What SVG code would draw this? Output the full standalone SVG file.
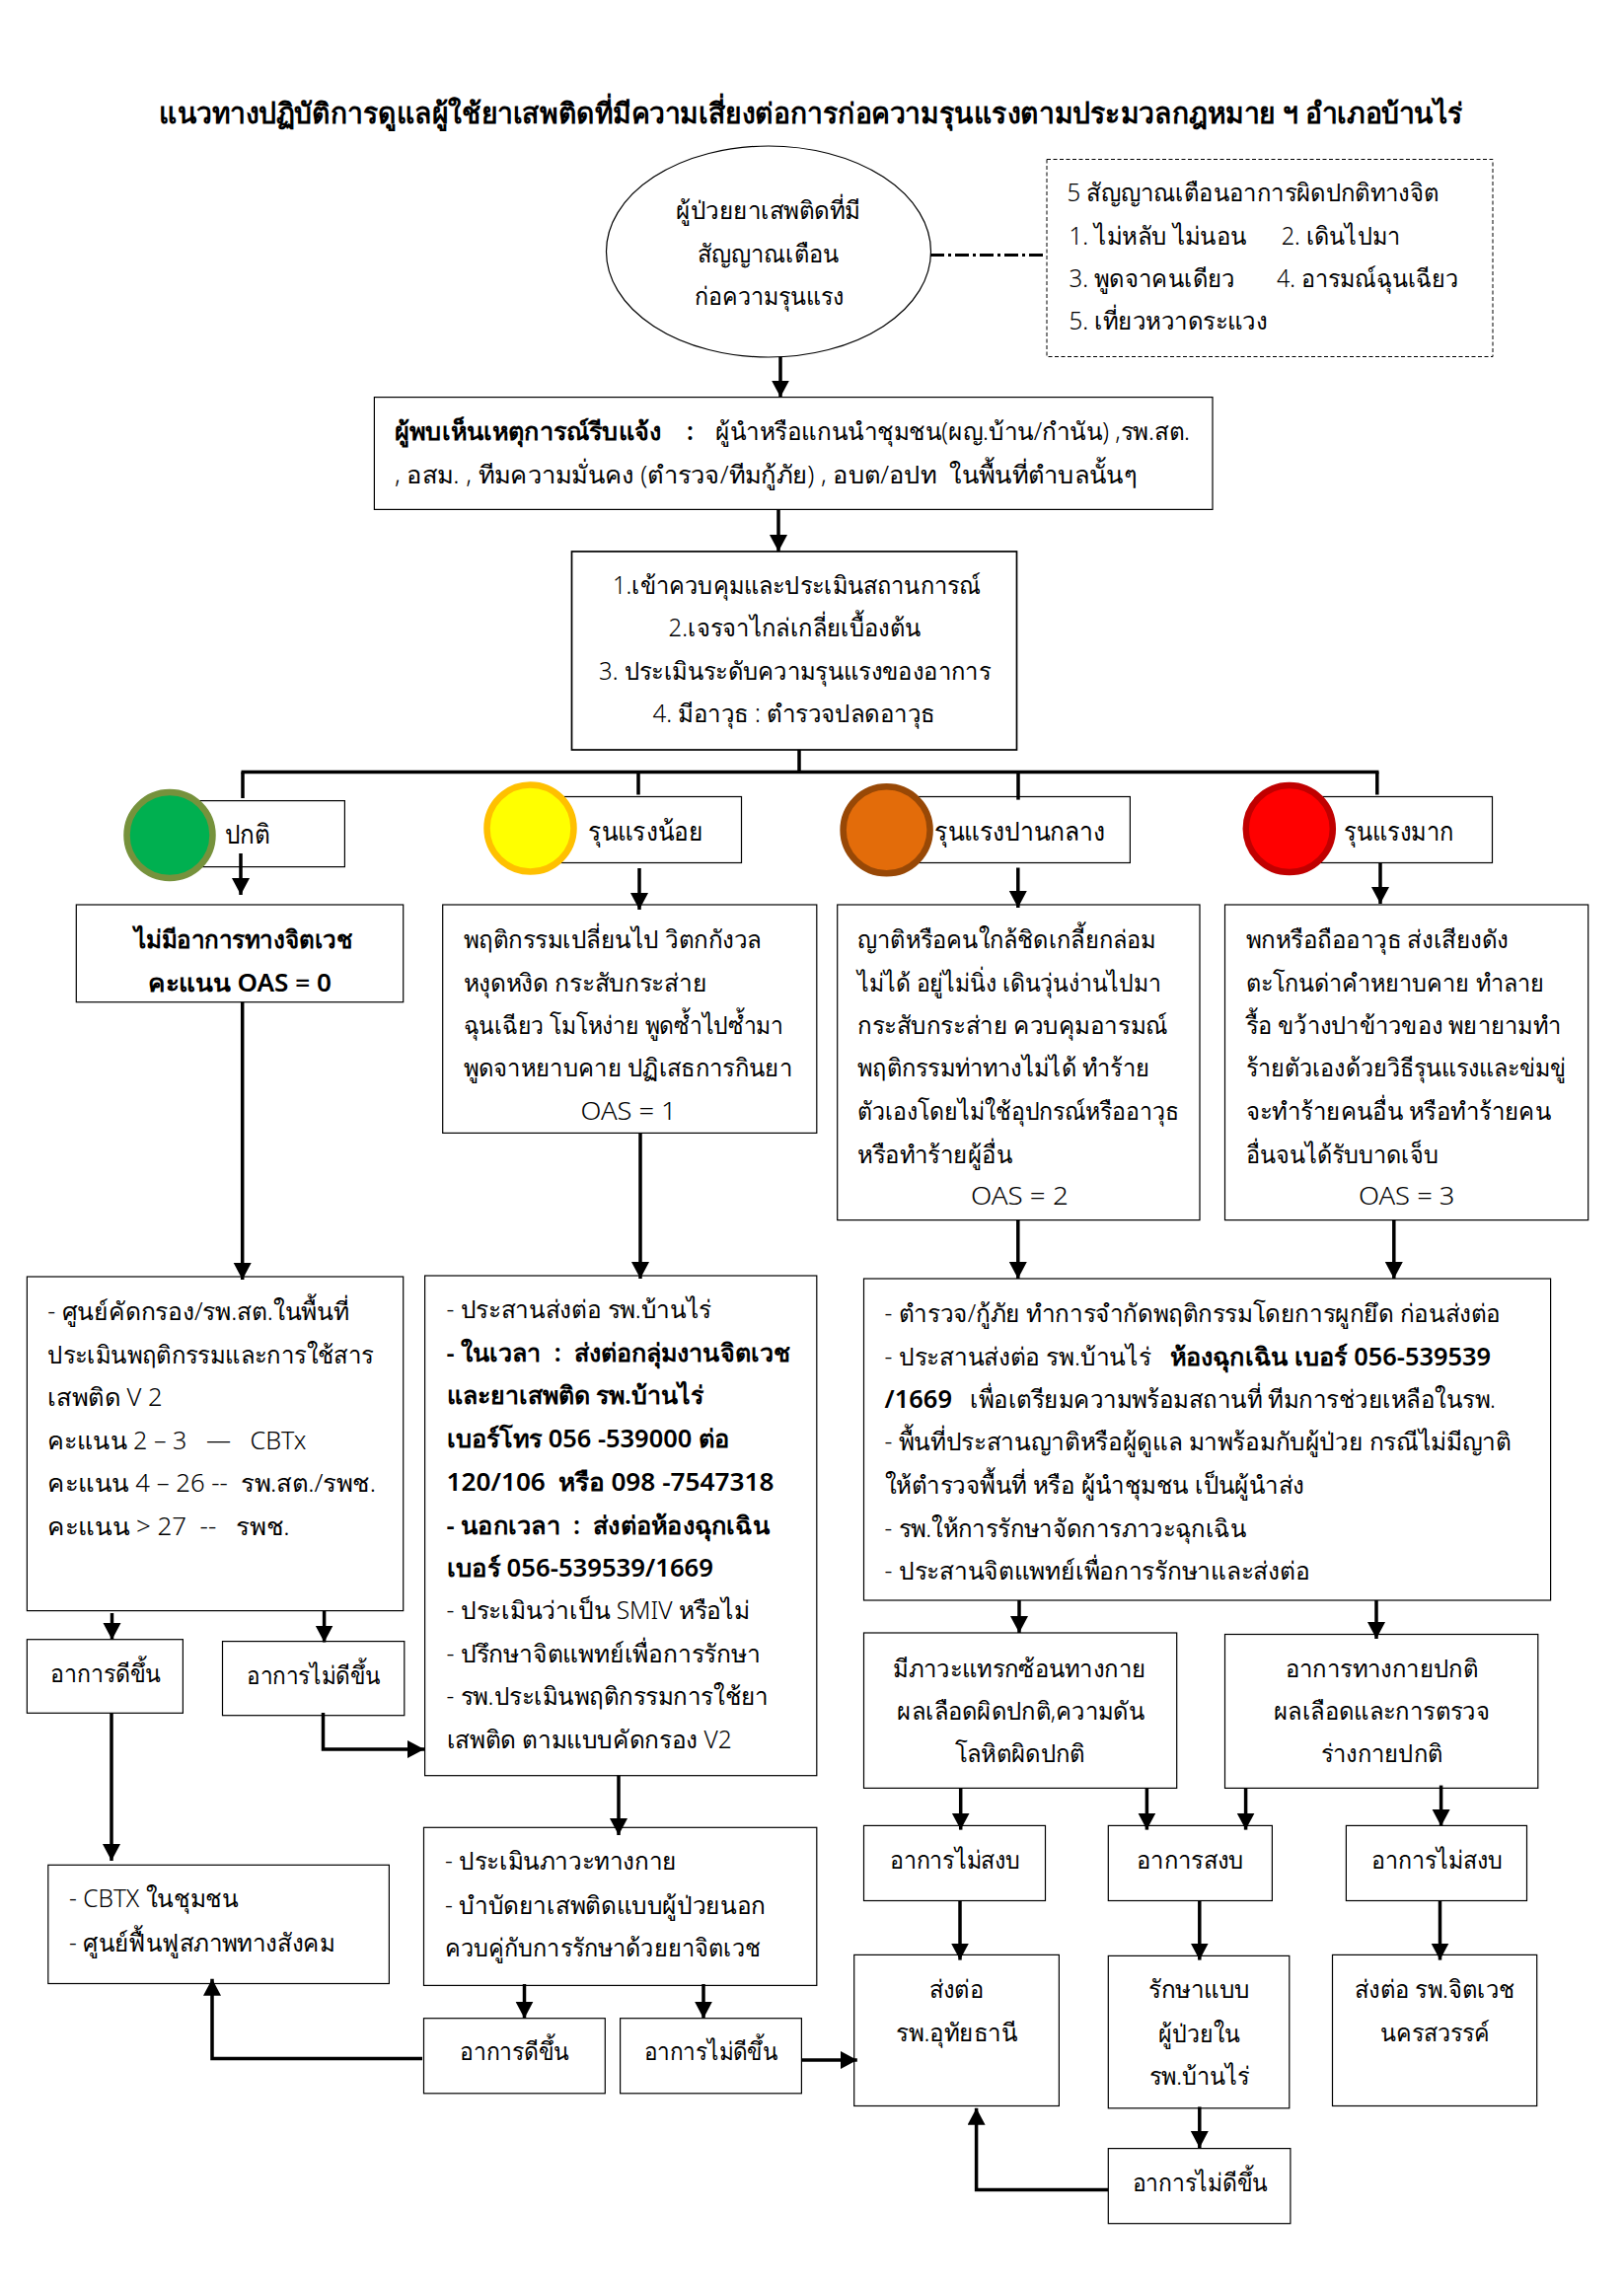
<svg xmlns="http://www.w3.org/2000/svg" width="1646" height="2316" viewBox="0 0 1646 2316">
<style>
text{font-family:"Noto Sans","Liberation Sans","DejaVu Sans",sans-serif;font-size:25px;font-weight:300;fill:#000;white-space:pre;transform:translateY(-1px)}
.b{font-weight:600}
.l{font-size:27px;font-weight:400}
.ti{font-size:29px;font-weight:bold}
.n{fill:#fff;stroke:#000;stroke-width:1.2}
.k{stroke-width:1.7}
.d{fill:#fff;stroke:#000;stroke-width:1;stroke-dasharray:4 2.5}
.c{fill:none;stroke:#000;stroke-width:3.5;marker-end:url(#a)}
.p{fill:none;stroke:#000;stroke-width:3.5}
.m{fill:none;stroke:#000;stroke-width:3;stroke-dasharray:14 4 3 4}
.lamp{stroke-width:6.5}
</style>
<defs><marker id="a" markerUnits="userSpaceOnUse" markerWidth="20" markerHeight="20" refX="17" refY="9" orient="auto"><path d="M0 0L17 9L0 18Z" fill="#000"/></marker></defs>
<rect width="1646" height="2316" fill="#fff"/>
<g id="title"><text class="ti" x="161" y="126" textLength="1322" lengthAdjust="spacingAndGlyphs">แนวทางปฏิบัติการดูแลผู้ใช้ยาเสพติดที่มีความเสี่ยงต่อการก่อความรุนแรงตามประมวลกฎหมาย ฯ อำเภอบ้านไร่</text></g>
<g id="n-start"><ellipse class="n" cx="779" cy="255" rx="164.5" ry="107"/>
<text x="685" y="223" textLength="187" lengthAdjust="spacingAndGlyphs">ผู้ป่วยยาเสพติดที่มี</text>
<text x="707" y="267" textLength="143" lengthAdjust="spacingAndGlyphs">สัญญาณเตือน</text>
<text x="704" y="310" textLength="151" lengthAdjust="spacingAndGlyphs">ก่อความรุนแรง</text></g>
<g id="n-signs"><rect class="d" x="1061" y="161.5" width="452" height="200"/>
<text x="1081.6" y="205" textLength="377" lengthAdjust="spacingAndGlyphs">5 สัญญาณเตือนอาการผิดปกติทางจิต</text>
<text x="1083.5" y="248.6" textLength="180" lengthAdjust="spacingAndGlyphs">1. ไม่หลับ ไม่นอน</text>
<text x="1298.7" y="248.6" textLength="120" lengthAdjust="spacingAndGlyphs">2. เดินไปมา</text>
<text x="1083.5" y="292" textLength="168" lengthAdjust="spacingAndGlyphs">3. พูดจาคนเดียว</text>
<text x="1294" y="292" textLength="184" lengthAdjust="spacingAndGlyphs">4. อารมณ์ฉุนเฉียว</text>
<text x="1083.5" y="335" textLength="201" lengthAdjust="spacingAndGlyphs">5. เที่ยวหวาดระแวง</text></g>
<g id="n-report"><rect class="n" x="379.4" y="402.6" width="849.6" height="113.8"/>
<text class="b" x="400" y="447" textLength="270" lengthAdjust="spacingAndGlyphs">ผู้พบเห็นเหตุการณ์รีบแจ้ง</text>
<text class="b" x="696" y="447">:</text>
<text x="725" y="447" textLength="481" lengthAdjust="spacingAndGlyphs">ผู้นำหรือแกนนำชุมชน(ผญ.บ้าน/กำนัน) ,รพ.สต.</text>
<text x="400" y="490.5" textLength="752" lengthAdjust="spacingAndGlyphs">, อสม. , ทีมความมั่นคง (ตำรวจ/ทีมกู้ภัย) , อบต/อปท  ในพื้นที่ตำบลนั้นๆ</text></g>
<g id="n-assess"><rect class="n k" x="579.5" y="559" width="451" height="201"/>
<text x="621" y="602.6" textLength="373" lengthAdjust="spacingAndGlyphs">1.เข้าควบคุมและประเมินสถานการณ์</text>
<text x="677.6" y="646" textLength="255.4" lengthAdjust="spacingAndGlyphs">2.เจรจาไกล่เกลี่ยเบื้องต้น</text>
<text x="607" y="689.6" textLength="397" lengthAdjust="spacingAndGlyphs">3. ประเมินระดับความรุนแรงของอาการ</text>
<text x="661.6" y="733" textLength="286" lengthAdjust="spacingAndGlyphs">4. มีอาวุธ : ตำรวจปลดอาวุธ</text></g>
<g id="n-normal"><rect class="n" x="172" y="811.6" width="177.4" height="67"/><circle class="lamp" cx="172" cy="846.5" r="43.5" fill="#00B050" stroke="#76923C"/>
<text class="l" x="228" y="855.5" textLength="46" lengthAdjust="spacingAndGlyphs">ปกติ</text></g>
<g id="n-mild"><rect class="n" x="537" y="807.5" width="214.5" height="67"/><circle class="lamp" cx="537.5" cy="839.5" r="44" fill="#FFFF00" stroke="#FFC000"/>
<text class="l" x="596" y="852.5" textLength="116" lengthAdjust="spacingAndGlyphs">รุนแรงน้อย</text></g>
<g id="n-moderate"><rect class="n" x="899" y="807.5" width="246.4" height="67"/><circle class="lamp" cx="898.6" cy="841.3" r="44" fill="#E36C0A" stroke="#984806"/>
<text class="l" x="947" y="852.5" textLength="173" lengthAdjust="spacingAndGlyphs">รุนแรงปานกลาง</text></g>
<g id="n-severe"><rect class="n" x="1307" y="807.5" width="205.5" height="67"/><circle class="lamp" cx="1306.8" cy="840" r="44" fill="#FF0000" stroke="#C00000"/>
<text class="l" x="1362" y="852.5" textLength="111.4" lengthAdjust="spacingAndGlyphs">รุนแรงมาก</text></g>
<g id="n-oas0"><rect class="n" x="77.3" y="917" width="331.4" height="98.7"/>
<text class="b" x="135.5" y="962" textLength="222" lengthAdjust="spacingAndGlyphs">ไม่มีอาการทางจิตเวช</text>
<text class="b" x="150" y="1006" textLength="186" lengthAdjust="spacingAndGlyphs">คะแนน OAS = 0</text></g>
<g id="n-oas1"><rect class="n" x="448.7" y="917" width="379.1" height="231.4"/>
<text x="469.6" y="962" textLength="302.4" lengthAdjust="spacingAndGlyphs">พฤติกรรมเปลี่ยนไป วิตกกังวล</text>
<text x="469.6" y="1006" textLength="246.8" lengthAdjust="spacingAndGlyphs">หงุดหงิด กระสับกระส่าย</text>
<text x="469.6" y="1049" textLength="324.4" lengthAdjust="spacingAndGlyphs">ฉุนเฉียว โมโหง่าย พูดซ้ำไปซ้ำมา</text>
<text x="469.6" y="1092" textLength="333.4" lengthAdjust="spacingAndGlyphs">พูดจาหยาบคาย ปฏิเสธการกินยา</text>
<text x="588.6" y="1135.6" textLength="97" lengthAdjust="spacingAndGlyphs">OAS = 1</text></g>
<g id="n-oas2"><rect class="n" x="848.7" y="917" width="367.3" height="319.6"/>
<text x="869.3" y="962" textLength="302.3" lengthAdjust="spacingAndGlyphs">ญาติหรือคนใกล้ชิดเกลี้ยกล่อม</text>
<text x="869.3" y="1006" textLength="307.5" lengthAdjust="spacingAndGlyphs">ไม่ได้ อยู่ไม่นิ่ง เดินวุ่นง่านไปมา</text>
<text x="869.3" y="1049" textLength="314" lengthAdjust="spacingAndGlyphs">กระสับกระส่าย ควบคุมอารมณ์</text>
<text x="869.3" y="1092" textLength="295.7" lengthAdjust="spacingAndGlyphs">พฤติกรรมท่าทางไม่ได้ ทำร้าย</text>
<text x="869.3" y="1135.6" textLength="325.5" lengthAdjust="spacingAndGlyphs">ตัวเองโดยไม่ใช้อุปกรณ์หรืออาวุธ</text>
<text x="869.3" y="1179.5" textLength="156.7" lengthAdjust="spacingAndGlyphs">หรือทำร้ายผู้อื่น</text>
<text x="984" y="1222.4" textLength="98.7" lengthAdjust="spacingAndGlyphs">OAS = 2</text></g>
<g id="n-oas3"><rect class="n" x="1241.5" y="917" width="368.2" height="319.6"/>
<text x="1262.6" y="962" textLength="266.4" lengthAdjust="spacingAndGlyphs">พกหรือถืออาวุธ ส่งเสียงดัง</text>
<text x="1262.6" y="1006" textLength="302.4" lengthAdjust="spacingAndGlyphs">ตะโกนด่าคำหยาบคาย ทำลาย</text>
<text x="1262.6" y="1049" textLength="319.4" lengthAdjust="spacingAndGlyphs">รื้อ ขว้างปาข้าวของ พยายามทำ</text>
<text x="1262.6" y="1092" textLength="324.4" lengthAdjust="spacingAndGlyphs">ร้ายตัวเองด้วยวิธีรุนแรงและข่มขู่</text>
<text x="1262.6" y="1135.6" textLength="309.4" lengthAdjust="spacingAndGlyphs">จะทำร้ายคนอื่น หรือทำร้ายคน</text>
<text x="1262.6" y="1179.5" textLength="195.4" lengthAdjust="spacingAndGlyphs">อื่นจนได้รับบาดเจ็บ</text>
<text x="1377" y="1222.4" textLength="97.5" lengthAdjust="spacingAndGlyphs">OAS = 3</text></g>
<g id="n-screen"><rect class="n" x="27.4" y="1294" width="381.3" height="338.6"/>
<text x="48.3" y="1338.7" textLength="305.5" lengthAdjust="spacingAndGlyphs">- ศูนย์คัดกรอง/รพ.สต.ในพื้นที่</text>
<text x="48.3" y="1383" textLength="330.2" lengthAdjust="spacingAndGlyphs">ประเมินพฤติกรรมและการใช้สาร</text>
<text x="48.3" y="1426" textLength="116.3" lengthAdjust="spacingAndGlyphs">เสพติด V 2</text>
<text x="48.3" y="1470" textLength="262.2" lengthAdjust="spacingAndGlyphs">คะแนน 2 – 3   —   CBTx</text>
<text x="48.3" y="1513" textLength="332.7" lengthAdjust="spacingAndGlyphs">คะแนน 4 – 26 --  รพ.สต./รพช.</text>
<text x="48.3" y="1557" textLength="245.2" lengthAdjust="spacingAndGlyphs">คะแนน &gt; 27  --   รพช.</text></g>
<g id="n-refer"><rect class="n" x="430.6" y="1293" width="397.2" height="506.7"/>
<text x="452.5" y="1337" textLength="268.5" lengthAdjust="spacingAndGlyphs">- ประสานส่งต่อ รพ.บ้านไร่</text>
<text class="b" x="452.5" y="1381" textLength="348.5" lengthAdjust="spacingAndGlyphs">- ในเวลา  :  ส่งต่อกลุ่มงานจิตเวช</text>
<text class="b" x="452.5" y="1424.4" textLength="260.5" lengthAdjust="spacingAndGlyphs">และยาเสพติด รพ.บ้านไร่</text>
<text class="b" x="452.5" y="1468" textLength="286.9" lengthAdjust="spacingAndGlyphs">เบอร์โทร 056 -539000 ต่อ</text>
<text class="b" x="452.5" y="1511.6" textLength="331.9" lengthAdjust="spacingAndGlyphs">120/106  หรือ 098 -7547318</text>
<text class="b" x="452.5" y="1555.5" textLength="327.5" lengthAdjust="spacingAndGlyphs">- นอกเวลา  :  ส่งต่อห้องฉุกเฉิน</text>
<text class="b" x="452.5" y="1598.8" textLength="270.5" lengthAdjust="spacingAndGlyphs">เบอร์ 056-539539/1669</text>
<text x="452.5" y="1642" textLength="307.2" lengthAdjust="spacingAndGlyphs">- ประเมินว่าเป็น SMIV หรือไม่</text>
<text x="452.5" y="1686" textLength="318.2" lengthAdjust="spacingAndGlyphs">- ปรึกษาจิตแพทย์เพื่อการรักษา</text>
<text x="452.5" y="1729" textLength="326.5" lengthAdjust="spacingAndGlyphs">- รพ.ประเมินพฤติกรรมการใช้ยา</text>
<text x="452.5" y="1773" textLength="289.1" lengthAdjust="spacingAndGlyphs">เสพติด ตามแบบคัดกรอง V2</text></g>
<g id="n-er"><rect class="n" x="875.5" y="1296" width="696.1" height="326"/>
<text x="896.6" y="1341" textLength="624.4" lengthAdjust="spacingAndGlyphs">- ตำรวจ/กู้ภัย ทำการจำกัดพฤติกรรมโดยการผูกยึด ก่อนส่งต่อ</text>
<text x="896.6" y="1384.6" textLength="269.9" lengthAdjust="spacingAndGlyphs">- ประสานส่งต่อ รพ.บ้านไร่</text>
<text class="b" x="1185.5" y="1384.6" textLength="325.5" lengthAdjust="spacingAndGlyphs">ห้องฉุกเฉิน เบอร์ 056-539539</text>
<text class="b" x="896.6" y="1428" textLength="68.4" lengthAdjust="spacingAndGlyphs">/1669</text>
<text x="983" y="1428" textLength="533" lengthAdjust="spacingAndGlyphs">เพื่อเตรียมความพร้อมสถานที่ ทีมการช่วยเหลือในรพ.</text>
<text x="896.6" y="1471" textLength="634.9" lengthAdjust="spacingAndGlyphs">- พื้นที่ประสานญาติหรือผู้ดูแล มาพร้อมกับผู้ป่วย กรณีไม่มีญาติ</text>
<text x="896.6" y="1514.7" textLength="425.4" lengthAdjust="spacingAndGlyphs">ให้ตำรวจพื้นที่ หรือ ผู้นำชุมชน เป็นผู้นำส่ง</text>
<text x="896.6" y="1559" textLength="366.4" lengthAdjust="spacingAndGlyphs">- รพ.ให้การรักษาจัดการภาวะฉุกเฉิน</text>
<text x="896.6" y="1602" textLength="430.8" lengthAdjust="spacingAndGlyphs">- ประสานจิตแพทย์เพื่อการรักษาและส่งต่อ</text></g>
<g id="n-better1"><rect class="n" x="27.4" y="1661.7" width="158" height="74.6"/><text x="51" y="1705.8" textLength="112" lengthAdjust="spacingAndGlyphs">อาการดีขึ้น</text></g>
<g id="n-worse1"><rect class="n" x="225.5" y="1663.6" width="184.3" height="75.1"/><text x="250" y="1708" textLength="135.6" lengthAdjust="spacingAndGlyphs">อาการไม่ดีขึ้น</text></g>
<g id="n-cbtx"><rect class="n" x="48.8" y="1890.3" width="345.6" height="120.2"/>
<text x="70" y="1933.5" textLength="171.4" lengthAdjust="spacingAndGlyphs">- CBTX ในชุมชน</text>
<text x="70" y="1979" textLength="269" lengthAdjust="spacingAndGlyphs">- ศูนย์ฟื้นฟูสภาพทางสังคม</text></g>
<g id="n-opd"><rect class="n" x="429.5" y="1852.3" width="398.3" height="160.1"/>
<text x="451" y="1895.5" textLength="234.7" lengthAdjust="spacingAndGlyphs">- ประเมินภาวะทางกาย</text>
<text x="451" y="1940.6" textLength="325" lengthAdjust="spacingAndGlyphs">- บำบัดยาเสพติดแบบผู้ป่วยนอก</text>
<text x="451" y="1983.8" textLength="319.7" lengthAdjust="spacingAndGlyphs">ควบคู่กับการรักษาด้วยยาจิตเวช</text></g>
<g id="n-better2"><rect class="n" x="429.5" y="2045.7" width="183.8" height="76.1"/><text x="466" y="2089.4" textLength="111" lengthAdjust="spacingAndGlyphs">อาการดีขึ้น</text></g>
<g id="n-worse2"><rect class="n" x="628.6" y="2045.7" width="183.8" height="76.1"/><text x="652.8" y="2089.4" textLength="135.2" lengthAdjust="spacingAndGlyphs">อาการไม่ดีขึ้น</text></g>
<g id="n-compl"><rect class="n" x="875.5" y="1655" width="317.2" height="157.4"/>
<text x="905.3" y="1700.6" textLength="256" lengthAdjust="spacingAndGlyphs">มีภาวะแทรกซ้อนทางกาย</text>
<text x="909.4" y="1744.3" textLength="250.4" lengthAdjust="spacingAndGlyphs">ผลเลือดผิดปกติ,ความดัน</text>
<text x="967.5" y="1787" textLength="132.1" lengthAdjust="spacingAndGlyphs">โลหิตผิดปกติ</text></g>
<g id="n-phys"><rect class="n" x="1241.5" y="1656.5" width="317.3" height="155.9"/>
<text x="1302.7" y="1700.6" textLength="195.3" lengthAdjust="spacingAndGlyphs">อาการทางกายปกติ</text>
<text x="1291" y="1744.3" textLength="219" lengthAdjust="spacingAndGlyphs">ผลเลือดและการตรวจ</text>
<text x="1338.7" y="1787" textLength="123.3" lengthAdjust="spacingAndGlyphs">ร่างกายปกติ</text></g>
<g id="n-agit1"><rect class="n" x="875.5" y="1850.4" width="184" height="76.1"/><text x="901.7" y="1894.5" textLength="132.6" lengthAdjust="spacingAndGlyphs">อาการไม่สงบ</text></g>
<g id="n-calm"><rect class="n" x="1123.3" y="1850.4" width="166.1" height="76.1"/><text x="1152" y="1894.5" textLength="108.6" lengthAdjust="spacingAndGlyphs">อาการสงบ</text></g>
<g id="n-agit2"><rect class="n" x="1364.4" y="1850.4" width="183.1" height="76.1"/><text x="1390" y="1894.5" textLength="132.8" lengthAdjust="spacingAndGlyphs">อาการไม่สงบ</text></g>
<g id="n-uthai"><rect class="n" x="865.7" y="1981.4" width="207.7" height="153.1"/>
<text x="941.8" y="2026" textLength="55" lengthAdjust="spacingAndGlyphs">ส่งต่อ</text>
<text x="908.4" y="2069.7" textLength="122.9" lengthAdjust="spacingAndGlyphs">รพ.อุทัยธานี</text></g>
<g id="n-ipd"><rect class="n" x="1123.3" y="1982.4" width="183.5" height="154.4"/>
<text x="1164" y="2026" textLength="102.7" lengthAdjust="spacingAndGlyphs">รักษาแบบ</text>
<text x="1174" y="2070.6" textLength="82.5" lengthAdjust="spacingAndGlyphs">ผู้ป่วยใน</text>
<text x="1165" y="2113.8" textLength="101.7" lengthAdjust="spacingAndGlyphs">รพ.บ้านไร่</text></g>
<g id="n-nsw"><rect class="n" x="1350.5" y="1981.4" width="207.2" height="153.1"/>
<text x="1373" y="2026" textLength="162.6" lengthAdjust="spacingAndGlyphs">ส่งต่อ รพ.จิตเวช</text>
<text x="1398.9" y="2069.7" textLength="111.1" lengthAdjust="spacingAndGlyphs">นครสวรรค์</text></g>
<g id="n-worse3"><rect class="n" x="1123.3" y="2177.6" width="184.6" height="76.1"/><text x="1147.5" y="2221.8" textLength="137.2" lengthAdjust="spacingAndGlyphs">อาการไม่ดีขึ้น</text></g>
<g id="connectors">
<path class="m" d="M943 258.4H1061"/>
<path class="c" d="M791 361.5V402.6"/>
<path class="c" d="M789 516.4V559"/>
<path class="p" d="M810 760V782.5"/>
<path class="p" d="M244.5 782.5H1397.5"/>
<path class="p" d="M246 782.5V809"/>
<path class="p" d="M647 782.5V805.5"/>
<path class="p" d="M1032 782.5V810.6"/>
<path class="p" d="M1395.8 782.5V805.5"/>
<path class="c" d="M244 865V907"/>
<path class="c" d="M648 880V922"/>
<path class="c" d="M1031.8 879.5V920"/>
<path class="c" d="M1399 874V916"/>
<path class="c" d="M245.7 1015.7V1297"/>
<path class="c" d="M649 1148.4V1296"/>
<path class="c" d="M1031.8 1236.6V1296"/>
<path class="c" d="M1412.8 1236.6V1296"/>
<path class="c" d="M113.5 1635V1662"/>
<path class="c" d="M328.6 1632.6V1664.5"/>
<path class="c" d="M113 1736.3V1886"/>
<path class="c" d="M327.5 1736V1773H430"/>
<path class="c" d="M627 1799.7V1860"/>
<path class="c" d="M531.5 2011V2045.7"/>
<path class="c" d="M713 2011V2045.7"/>
<path class="c" d="M428 2086.6H215V2005.8"/>
<path class="c" d="M812.4 2088H868.8"/>
<path class="c" d="M1033 1622V1655"/>
<path class="c" d="M1395 1622V1661"/>
<path class="c" d="M973.7 1812.4V1854.6"/>
<path class="c" d="M1162.4 1812.4V1854.6"/>
<path class="c" d="M1262.6 1812.4V1854.6"/>
<path class="c" d="M1460.6 1809.6V1851"/>
<path class="c" d="M973 1926.5V1986.6"/>
<path class="c" d="M1215.8 1926.5V1986.6"/>
<path class="c" d="M1459.5 1926.5V1986.6"/>
<path class="c" d="M1215.8 2135.4V2177"/>
<path class="c" d="M1123 2219.4H989.6V2136.8"/>
</g>
</svg>
